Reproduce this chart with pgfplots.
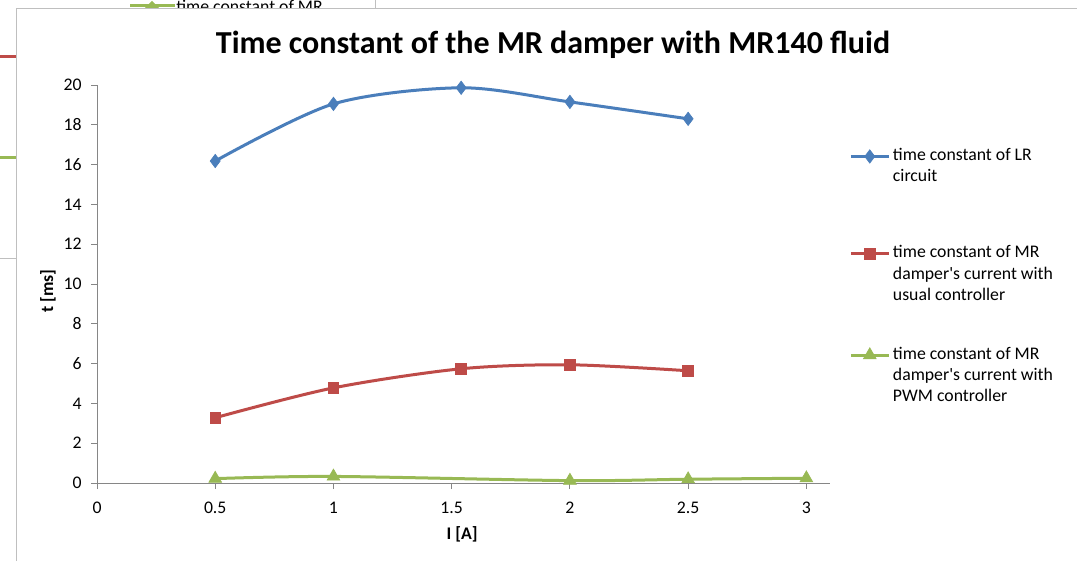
\documentclass[border=0pt]{standalone}
\usepackage{pgfplots}
\pgfplotsset{compat=1.18}
\usepackage{fontspec}
\setmainfont{Carlito}
\definecolor{cblue}{HTML}{4A7EBB}
\definecolor{cred}{HTML}{BE4B48}
\definecolor{cgreen}{HTML}{98B954}
\definecolor{axgray}{HTML}{868686}
\definecolor{frgray}{HTML}{BFBFBF}
\begin{document}
\begin{tikzpicture}[x=0.75pt,y=0.75pt]
\useasboundingbox (0,0) rectangle (1077,561);
\clip (0,0) rectangle (1077,561);
% background chart remnants
\draw[cred, line width=2.25pt] (0,504) -- (16,504);
\draw[cgreen, line width=2.25pt] (0,403) -- (16,403);
\draw[frgray, line width=0.75pt] (0,302) -- (16,302);
\draw[frgray, line width=0.75pt] (375,561) -- (375,551);
\draw[cgreen, line width=2.25pt] (130,555) -- (175,555);
\fill[cgreen] (144,552)--(160,552)--(152,560)--cycle;
\node[anchor=base west, inner sep=0, font=\fontsize{13.3}{16}\selectfont] at (176,548.5) {time constant of MR};
% main chart frame
\fill[white] (16,0) rectangle (1077,552);
\draw[frgray, line width=0.75pt] (16,0) -- (16,552) -- (1077,552);
\node[font=\fontsize{24}{28}\selectfont\bfseries] at (553,516) {Time constant of the MR damper with MR140 fluid};
\begin{axis}[
  at={(72.75pt,58.5pt)}, anchor=south west,
  scale only axis, width=549.75pt, height=298.5pt,
  xmin=0, xmax=3.1, ymin=0, ymax=20,
  axis x line*=bottom, axis y line*=left,
  xtick={0,0.5,1,1.5,2,2.5,3}, ytick={0,2,...,20},
  tick align=outside, major tick length=4.5pt,
  axis line style={axgray, line width=0.75pt},
  tick style={axgray, line width=0.75pt},
  tick label style={font=\fontsize{13.3}{16}\selectfont, black},
  xticklabel style={yshift=-6pt},
  yticklabel style={xshift=-3.5pt},
  /pgf/number format/assume math mode=true,
  xlabel={\bfseries I [A]}, ylabel={\bfseries t [ms]},
  every axis x label/.style={at={(axis description cs:0.498,-0.128)}, anchor=center, font=\fontsize{13.3}{16}\selectfont},
  every axis y label/.style={at={(axis description cs:-0.067,0.482)}, anchor=center, rotate=90, font=\fontsize{13.3}{16}\selectfont},
  legend style={at={(1.0205,0.862)}, anchor=north west, draw=none, fill=none,
    font=\fontsize{13.3}{16}\selectfont, row sep=24pt, cells={anchor=base west},
    nodes={text depth=}},
  legend image code/.code={\draw[mark repeat=2,mark phase=2] plot coordinates {(0pt,3pt)(14.25pt,3pt)(28.5pt,3pt)};},
  every axis plot/.append style={line width=2.25pt, smooth, tension=0.5},
]
\addplot[cblue, mark=diamond*, mark size=5pt, mark options={solid, line width=0.5pt}] coordinates {
(0.5,16.18) (1,19.05) (1.54,19.86) (2,19.15) (2.5,18.3)};
\addlegendentry{\begin{tabular}[t]{@{}l@{}}time constant of LR\\circuit\\[13pt]\end{tabular}}
\addplot[cred, mark=square*, mark size=4pt, mark options={solid, line width=0.5pt}] coordinates {
(0.5,3.28) (1,4.78) (1.54,5.74) (2,5.94) (2.5,5.64)};
\addlegendentry{\begin{tabular}[t]{@{}l@{}}time constant of MR\\damper\textquotesingle s current with\\usual controller\end{tabular}}
\addplot[cgreen, mark=triangle*, mark size=5.5pt, mark options={solid, line width=0.5pt}] coordinates {
(0.5,0.22) (1,0.33) (2,0.12) (2.5,0.19) (3,0.24)};
\addlegendentry{\begin{tabular}[t]{@{}l@{}}time constant of MR\\damper\textquotesingle s current with\\PWM controller\end{tabular}}
\end{axis}
\end{tikzpicture}
\end{document}
